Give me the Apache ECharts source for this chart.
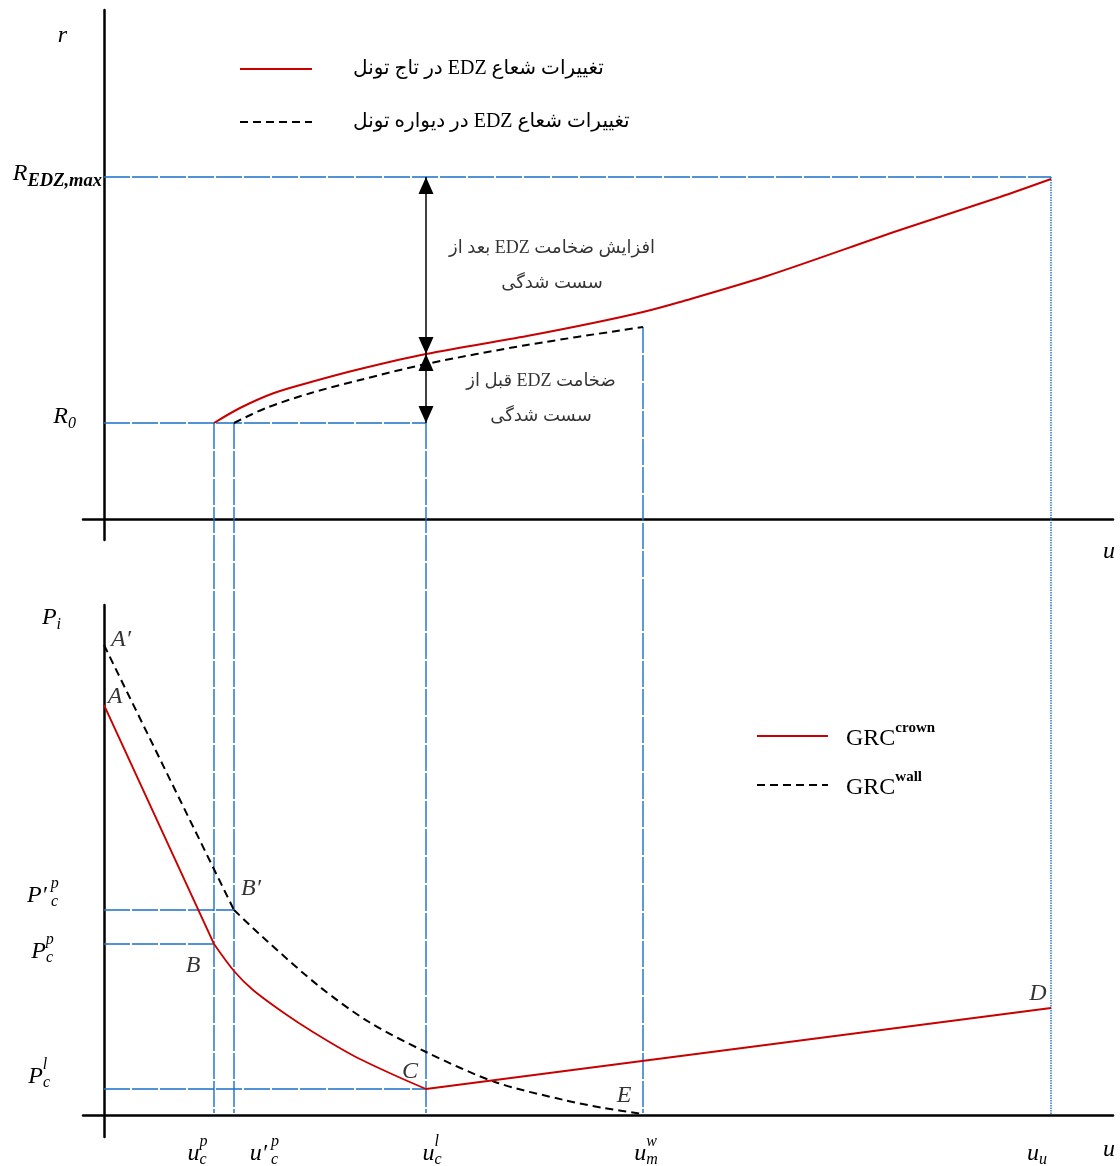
<!DOCTYPE html>
<html><head><meta charset="utf-8">
<script src="https://cdn.jsdelivr.net/npm/echarts@6/dist/echarts.min.js"></script>
<style>html,body{margin:0;padding:0;background:#fff}#chart{width:1120px;height:1166px}</style>
</head><body><div id="chart"></div>
<script>
// ================= DATA =================
// characteristic displacements on the u axis (arbitrary units)
const uCp = 1.10, uCpWall = 1.30, uCl = 3.22, uMw = 5.39, uU = 9.47;
// radii in the top panel
const rR0 = 0.96, rEdzMax = 3.42, rEdzAtUcl = 1.65, rWallEnd = 1.92;
// support pressures in the bottom panel
const pCpWall = 2.05, pCp = 1.71, pCl = 0.26;

// EDZ radius vs displacement (top panel)
const crownEdzU = [1.10, 1.36, 1.70, 2.07, 2.56, 3.22, 4.23, 4.89, 5.39, 5.76, 6.63, 7.96, 8.96, 9.47];
const crownEdzR = [0.96, 1.11, 1.26, 1.37, 1.50, 1.65, 1.83, 1.96, 2.07, 2.17, 2.43, 2.89, 3.22, 3.40];
const wallEdzU  = [1.30, 1.62, 2.07, 2.56, 3.22, 4.23, 5.39];
const wallEdzR  = [0.96, 1.11, 1.26, 1.39, 1.55, 1.74, 1.92];

// ground reaction curves (bottom panel)
const crownElasticU  = [0, 1.10];
const crownElasticP  = [4.10, 1.71];
const crownPlasticU  = [1.10, 1.30, 1.49, 1.80, 2.09, 2.50, 2.90, 3.22];
const crownPlasticP  = [1.71, 1.44, 1.25, 1.02, 0.83, 0.59, 0.40, 0.26];
const crownResidualU = [3.22, 9.47];
const crownResidualP = [0.26, 1.07];
const wallElasticU   = [0, 1.30];
const wallElasticP   = [4.70, 2.05];
const wallPlasticU   = [1.30, 1.63, 2.16, 2.65, 3.22, 3.91, 4.60, 5.00, 5.39];
const wallPlasticP   = [2.05, 1.74, 1.28, 0.93, 0.63, 0.33, 0.15, 0.07, 0.01];

// key points on the GRCs
const pointNames = ['A′', 'A', 'B′', 'B', 'C', 'D', 'E'];
const pointU     = [0, 0, 1.30, 1.10, 3.22, 9.47, 5.39];
const pointP     = [4.70, 4.10, 2.05, 1.71, 0.26, 1.07, 0];

// tick labels (listed so that neighbouring close labels are not first/last pairs)
const xTickValues = [uCl, uCp, uCpWall, uMw, uU];
const xTickLabels = [{base:'u', sup:'l', sub:'c'}, {base:'u', sup:'p', sub:'c'}, {base:'u′', sup:'p', sub:'c'}, {base:'u', sup:'w', sub:'m'}, {base:'u', sub:'u'}];
const rTickValues = [rEdzMax, rR0];
const rTickLabels = [{base:'R', sub:'EDZ,max', subBold:true}, {base:'R', sub:'0'}];
const pTickValues = [pCp, pCl, pCpWall];
const pTickLabels = [{base:'P', sup:'p', sub:'c'}, {base:'P', sup:'l', sub:'c'}, {base:'P′', sup:'p', sub:'c'}];

// texts
const crownEdzName = 'تغییرات شعاع EDZ در تاج تونل';
const wallEdzName  = 'تغییرات شعاع EDZ در دیواره تونل';
const grcCrownName = 'GRC crown';
const grcWallName  = 'GRC wall';
const annotationTexts = [['افزایش ضخامت EDZ بعد از', 'سست شدگی'], ['ضخامت EDZ قبل از', 'سست شدگی']];

// ================= STYLE / LAYOUT =================
const RED = '#c80000', BLUE = '#1a6fc9', BLACK = '#000';
const MATH = "'Liberation Serif', 'Times New Roman', serif";
const FA = "'Liberation Serif', 'DejaVu Sans', sans-serif";
const RLE = '\u202B', PDF = '\u202C';
const G0 = {left: 83, top: 10, width: 1030, height: 530};
const G1 = {left: 83, top: 605, width: 1030, height: 532};
const X_MIN = -0.21, X_MAX = 10.09;
const R_MIN = -0.21, R_MAX = 5.09;
const P_MIN = -0.22, P_MAX = 5.10;
const rPerPx = (R_MAX - R_MIN) / G0.height;
const gapR = R_MIN - (G1.top - (G0.top + G0.height)) * rPerPx; // r value at the top edge of lower grid
const pGuideEnd = 0.02;

const xTickShift = [6, -17, 30, 3, -14];
const rTickStyle = [{dy: -3, padR: 0, subSize: 18.5, subOff: 7}, {dy: -6, padR: 26, subOff: 7}];
const pTickStyle = [{dy: 8, padR: 7}, {dy: -12, padR: 10}, {dy: -14, padR: 2}];
const pointOffsets = [[17, -5], [11, -8], [17, -21], [-21, 22], [-16, -17], [-13, -14], [-19, -19]];
const annotationOffsets = [[126, 0], [115, 10]];

function buildMath(key, spec, LH, rich) {
  const dy = spec.dy || 0, bS = 24, sS = spec.subSize || 16, pS = 16;
  const baseC = LH / 2 + dy;
  const basePadR = spec.base.indexOf('′') >= 0 ? 4 : 0;
  const common = {fontFamily: MATH, fontStyle: 'italic', color: BLACK, align: 'left', verticalAlign: 'top', lineHeight: LH};
  let s = '';
  if (spec.padL) { rich[key + 'l'] = {width: spec.padL, height: 1, lineHeight: LH, align: 'left', verticalAlign: 'top'}; s += '{' + key + 'l|}'; }
  rich[key + 'b'] = Object.assign({}, common, {fontSize: bS, height: bS, padding: [baseC - bS / 2, basePadR, 0, 0]});
  s += '{' + key + 'b|' + spec.base + '}';
  if (spec.sup) {
    const c = baseC + (spec.supOff != null ? spec.supOff : -12);
    rich[key + 'p'] = Object.assign({}, common, {fontSize: pS, height: pS, padding: [c - pS / 2, 0, 0, 0]});
    if (spec.sub) rich[key + 'p'].width = 0.1;
    s += '{' + key + 'p|' + spec.sup + '}';
  }
  if (spec.sub) {
    const c = baseC + (spec.subOff != null ? spec.subOff : 6);
    rich[key + 's'] = Object.assign({}, common, {fontSize: sS, height: sS, fontWeight: spec.subBold ? 'bold' : 'normal', padding: [c - sS / 2, 0, 0, 0]});
    s += '{' + key + 's|' + spec.sub + '}';
  }
  if (spec.padR) { rich[key + 'r'] = {width: spec.padR, height: 1, lineHeight: LH, align: 'left', verticalAlign: 'top'}; s += '{' + key + 'r|}'; }
  return s;
}
function idxOf(arr, v) { for (let i = 0; i < arr.length; i++) if (Math.abs(arr[i] - v) < 1e-6) return i; return -1; }

const xRich = {}, xStr = [];
xTickLabels.forEach((l, i) => {
  const sh = xTickShift[i];
  xStr.push(buildMath('x' + i, Object.assign({}, l, sh > 0 ? {padL: 2 * sh} : {padR: -2 * sh}), 40, xRich));
});
const rRich = {}, rStr = [];
rTickLabels.forEach((l, i) => rStr.push(buildMath('r' + i, Object.assign({}, l, rTickStyle[i]), 80, rRich)));
const pRich = {}, pStr = [];
pTickLabels.forEach((l, i) => pStr.push(buildMath('p' + i, Object.assign({}, l, pTickStyle[i]), 80, pRich)));
const piRich = {}; const piStr = buildMath('n', {base: 'P', sub: 'i', subOff: 7}, 40, piRich);

const zip = (a, b) => a.map((v, i) => [v, b[i]]);

const series = [];
function guide(gi, pts, type) {
  series.push({type: 'line', xAxisIndex: gi, yAxisIndex: gi, data: pts, symbol: 'none', clip: false, silent: true, z: 1,
    lineStyle: {color: BLUE, width: 1.4, type: type || [26, 2]}});
}
guide(0, [[0, rEdzMax], [uU, rEdzMax]]);
guide(0, [[0, rR0], [uCl, rR0]]);
[[uCp, rR0], [uCpWall, rR0], [uCl, rR0], [uMw, rWallEnd], [uU, rEdzMax]].forEach((g, i) =>
  guide(0, [[g[0], g[1]], [g[0], gapR]], i === 4 ? [1.5, 1] : null));
guide(1, [[0, pCpWall], [uCpWall, pCpWall]]);
guide(1, [[0, pCp], [uCp, pCp]]);
guide(1, [[0, pCl], [uCl, pCl]]);
[uCp, uCpWall, uCl, uMw, uU].forEach((u, i) => guide(1, [[u, P_MAX], [u, i === 4 ? 0 : pGuideEnd]], i === 4 ? [1.5, 1] : null));

const dashed = {color: BLACK, width: 2, type: [8, 5]};
series.push({type: 'line', name: crownEdzName, xAxisIndex: 0, yAxisIndex: 0, data: zip(crownEdzU, crownEdzR), symbol: 'none', smooth: 0.3, lineStyle: {color: RED, width: 2}, z: 4, silent: true});
series.push({type: 'line', name: wallEdzName, xAxisIndex: 0, yAxisIndex: 0, data: zip(wallEdzU, wallEdzR), symbol: 'none', smooth: 0.3, lineStyle: dashed, z: 3, silent: true});
series.push({type: 'line', xAxisIndex: 0, yAxisIndex: 0, data: [], silent: true,
  markLine: {silent: true, animation: false, symbol: ['triangle', 'triangle'], symbolSize: [15, 17], symbolOffset: [[0, 8.5], [0, 8.5]],
    label: {show: false}, emphasis: {disabled: true}, lineStyle: {color: BLACK, width: 1.5, type: 'solid'},
    data: [[{coord: [uCl, rEdzMax]}, {coord: [uCl, rEdzAtUcl]}], [{coord: [uCl, rEdzAtUcl]}, {coord: [uCl, rR0]}]]}});
series.push({type: 'scatter', xAxisIndex: 0, yAxisIndex: 0, symbolSize: 1, silent: true, itemStyle: {color: 'rgba(0,0,0,0)'},
  data: [[uCl, (rEdzMax + rEdzAtUcl) / 2], [uCl, (rEdzAtUcl + rR0) / 2]].map((v, i) => ({value: v,
    label: {offset: annotationOffsets[i], formatter: annotationTexts[i].map(t => RLE + t + PDF).join('\n')}})),
  label: {show: true, position: 'inside', fontFamily: FA, fontSize: 18, lineHeight: 35, color: BLACK, align: 'center'}});

[[crownElasticU, crownElasticP, 0], [crownPlasticU, crownPlasticP, 0.3], [crownResidualU, crownResidualP, 0]].forEach(c =>
  series.push({type: 'line', name: grcCrownName, xAxisIndex: 1, yAxisIndex: 1, data: zip(c[0], c[1]), symbol: 'none', smooth: c[2], lineStyle: {color: RED, width: 1.8}, z: 4, silent: true}));
[[wallElasticU, wallElasticP, 0], [wallPlasticU, wallPlasticP, 0.3]].forEach(c =>
  series.push({type: 'line', name: grcWallName, xAxisIndex: 1, yAxisIndex: 1, data: zip(c[0], c[1]), symbol: 'none', smooth: c[2], lineStyle: dashed, z: 3, silent: true}));
series.push({type: 'scatter', xAxisIndex: 1, yAxisIndex: 1, symbolSize: 1, silent: true, itemStyle: {color: 'rgba(0,0,0,0)'},
  data: pointU.map((u, i) => ({value: [u, pointP[i]], name: pointNames[i], label: {offset: pointOffsets[i]}})),
  label: {show: true, position: 'inside', formatter: p => p.name, fontFamily: MATH, fontStyle: 'italic', fontSize: 24, color: BLACK}});

const axisLineStyle = {onZero: true, lineStyle: {color: BLACK, width: 2.5}};
const nameStyle = (padTop) => ({fontFamily: MATH, fontStyle: 'italic', fontSize: 24, color: BLACK, align: 'left', verticalAlign: 'top', padding: [padTop, 0, 0, 0]});
const labelCommon = {hideOverlap: false, showMinLabel: true, showMaxLabel: true};
const option = {
  animation: false,
  backgroundColor: '#fff',
  grid: [Object.assign({outerBoundsMode: 'none', containLabel: false}, G0), Object.assign({outerBoundsMode: 'none', containLabel: false}, G1)],
  legend: [
    {data: [crownEdzName, wallEdzName], left: 239, top: 59, padding: 0, orient: 'vertical', itemWidth: 72, itemHeight: 20, itemGap: 33, selectedMode: false,
      itemStyle: {opacity: 0},
      formatter: n => '{g|}{t|' + RLE + n + PDF + '}',
      textStyle: {rich: {g: {width: 36}, t: {fontFamily: FA, fontSize: 20, color: BLACK, lineHeight: 20}}}},
    {data: [grcCrownName, grcWallName], left: 756, top: 721, padding: 0, orient: 'vertical', itemWidth: 71, itemHeight: 20, itemGap: 19, selectedMode: false,
      itemStyle: {opacity: 0},
      formatter: n => '{g|}{b|GRC}{s|' + n.split(' ')[1] + '}',
      textStyle: {rich: {g: {width: 13}, b: {fontFamily: MATH, fontSize: 24, color: BLACK, lineHeight: 30, verticalAlign: 'bottom'},
        s: {fontFamily: MATH, fontSize: 15, fontWeight: 'bold', color: BLACK, lineHeight: 18, verticalAlign: 'top'}}}}
  ],
  xAxis: [
    {gridIndex: 0, type: 'value', min: X_MIN, max: X_MAX, axisLine: axisLineStyle, axisTick: {show: false}, axisLabel: {show: false}, splitLine: {show: false},
      name: 'u', nameLocation: 'end', nameGap: -10, nameMoveOverlap: false, nameTextStyle: nameStyle(21)},
    {gridIndex: 1, type: 'value', min: X_MIN, max: X_MAX, axisLine: axisLineStyle, axisTick: {show: false}, splitLine: {show: false},
      axisLabel: Object.assign({customValues: xTickValues, margin: -3, formatter: v => xStr[idxOf(xTickValues, v)] || '', rich: xRich}, labelCommon),
      name: 'u', nameLocation: 'end', nameGap: -10, nameMoveOverlap: false, nameTextStyle: nameStyle(23)}
  ],
  yAxis: [
    {gridIndex: 0, type: 'value', min: R_MIN, max: R_MAX, axisLine: axisLineStyle, axisTick: {show: false}, splitLine: {show: false},
      axisLabel: Object.assign({customValues: rTickValues, margin: -19, formatter: v => rStr[idxOf(rTickValues, v)] || '', rich: rRich}, labelCommon),
      name: 'r', nameLocation: 'end', nameGap: -26, nameMoveOverlap: false,
      nameTextStyle: {fontFamily: MATH, fontStyle: 'italic', fontSize: 24, color: BLACK, align: 'right', verticalAlign: 'middle', padding: [0, 37, 0, 0]}},
    {gridIndex: 1, type: 'value', min: P_MIN, max: P_MAX, axisLine: axisLineStyle, axisTick: {show: false}, splitLine: {show: false},
      axisLabel: Object.assign({customValues: pTickValues, margin: 23, formatter: v => pStr[idxOf(pTickValues, v)] || '', rich: pRich}, labelCommon),
      name: piStr, nameLocation: 'end', nameGap: -13, nameMoveOverlap: false,
      nameTextStyle: {align: 'right', verticalAlign: 'middle', padding: [0, 43, 0, 0], rich: piRich}}
  ],
  series: series
};
const chart = echarts.init(document.getElementById('chart'), null, {renderer: 'canvas'});
chart.setOption(option);
</script></body></html>
